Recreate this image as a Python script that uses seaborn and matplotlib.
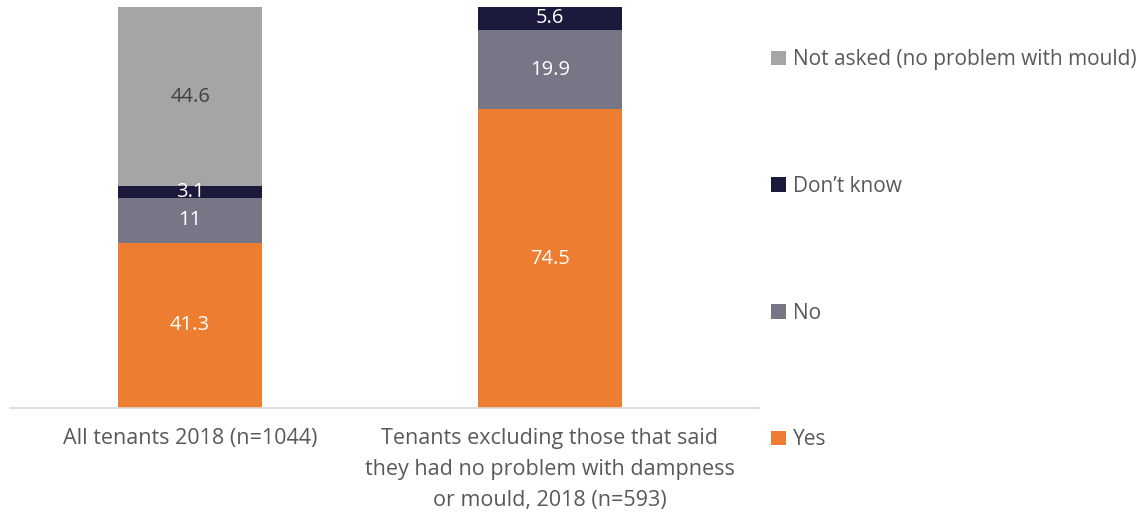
import matplotlib
matplotlib.use("Agg")
import matplotlib.pyplot as plt
import seaborn as sns
import pandas as pd
import numpy as np
from matplotlib.patches import Patch

categories = ["All tenants 2018 (n=1044)",
              "Tenants excluding those that said\nthey had no problem with dampness\nor mould, 2018 (n=593)"]
series_names = ["Yes", "No", "Don\u2019t know", "Not asked (no problem with mould)"]
yes = [41.3, 74.5]
no = [11, 19.9]
dont_know = [3.1, 5.6]
not_asked = [44.6, 0]
colors = ["#ED7D31", "#767687", "#1B1A3C", "#A5A5A5"]
label_colors = ["white", "white", "white", "#404040"]

sns.set_theme(style="white")
plt.rcParams['font.family'] = ['Open Sans', 'DejaVu Sans']

fig = plt.figure(figsize=(11.42, 5.14), dpi=100)
ax = fig.add_axes([0.009, 0.206, 0.656, 0.780])

values = [yes, no, dont_know, not_asked]
cum = np.cumsum(np.array(values), axis=0)
for i in range(len(values) - 1, -1, -1):
    df = pd.DataFrame({"cat": categories, "val": cum[i]})
    sns.barplot(data=df, x="cat", y="val", color=colors[i], width=0.4,
                saturation=1, ax=ax, edgecolor="none")

for i, vals in enumerate(values):
    for j, v in enumerate(vals):
        if v <= 0:
            continue
        mid = cum[i][j] - v / 2
        ax.text(j, mid, f"{v:g}", ha="center", va="center",
                color=label_colors[i], fontsize=14.5)

ax.set_ylim(0, 100)
ax.set_xlim(-0.5, 1.583)
ax.set_xlabel("")
ax.set_ylabel("")
ax.set_yticks([])
for s in ["top", "right", "left"]:
    ax.spines[s].set_visible(False)
ax.spines["bottom"].set_color("#D9D9D9")
ax.spines["bottom"].set_linewidth(1.2)
ax.tick_params(axis="x", length=0, pad=14)
for lbl in ax.get_xticklabels():
    lbl.set_fontsize(15.5)
    lbl.set_color("#595959")
    lbl.set_linespacing(1.65)

handles = [Patch(facecolor=colors[i], edgecolor="none") for i in range(3, -1, -1)]
labels = [series_names[i] for i in range(3, -1, -1)]
fig.legend(handles, labels, loc="upper left", bbox_to_anchor=(0.668, 0.920),
           frameon=False, fontsize=15, labelcolor="#595959",
           handlelength=0.7, handleheight=0.7, handletextpad=0.35,
           labelspacing=5.07, borderaxespad=0)

fig.savefig("out.png", dpi=100)
